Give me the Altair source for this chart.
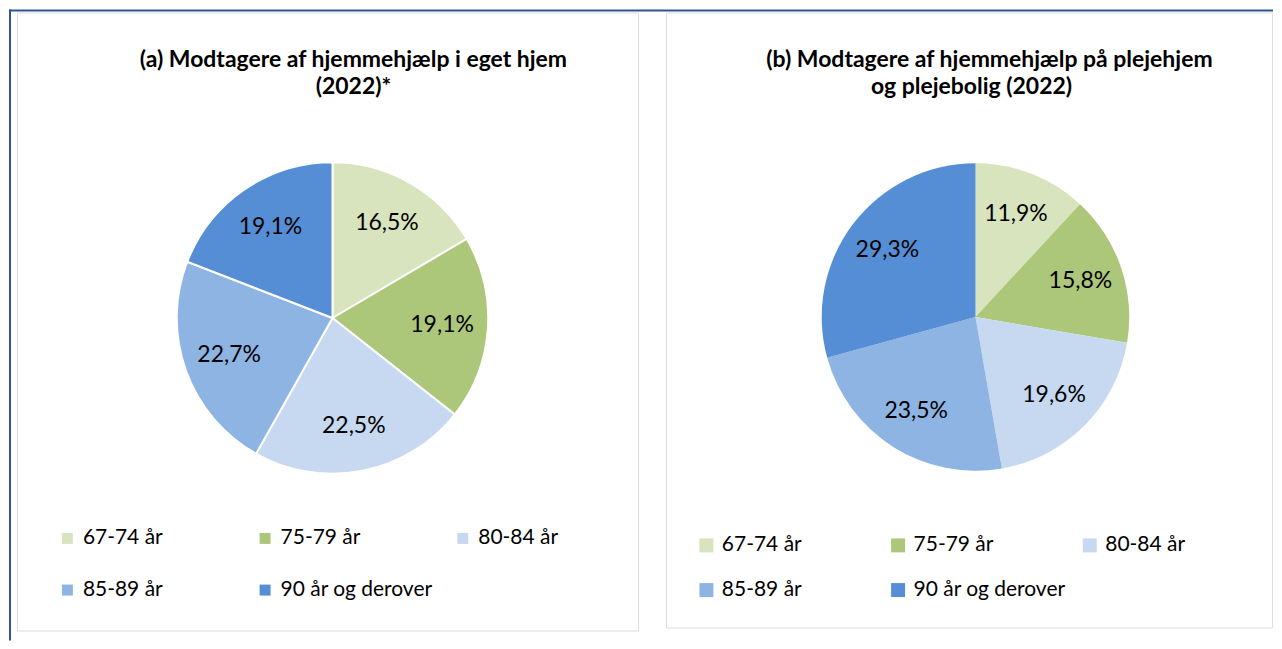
import altair as alt
import pandas as pd

categories = ["67-74 år", "75-79 år", "80-84 år", "85-89 år", "90 år og derover"]
colors = ["#d7e4bd", "#adc77a", "#c6d9f1", "#8eb4e3", "#558ed5"]
values_a = [16.5, 19.1, 22.5, 22.7, 19.1]
values_b = [11.9, 15.8, 19.6, 23.5, 29.3]
title_a = ["(a) Modtagere af hjemmehjælp i eget hjem", "(2022)*"]
title_b = ["(b) Modtagere af hjemmehjælp på plejehjem", "og plejebolig (2022)"]

BAND = "#2f5496"
FONT = "Lato"


def frame(values):
    return pd.DataFrame({
        "kategori": categories,
        "andel": values,
        "orden": list(range(len(categories))),
        "etiket": [f"{v:.1f}".replace(".", ",") + "%" for v in values],
    })


def text_line(line, x, y):
    return alt.Chart(pd.DataFrame({"linje": [line]})).mark_text(
        font=FONT, fontWeight="bold", fontSize=23, color="black",
        align="center", baseline="alphabetic",
    ).encode(x=alt.value(x), y=alt.value(y), text="linje:N")


def panel(values, titles, W, H, cx, cy, r, label_r, stroke_w,
          lx, ly, sym, row_pad, col_pad, extras):
    df = frame(values)
    base = alt.Chart(df).encode(
        theta=alt.Theta("andel:Q", stack=True),
        order=alt.Order("orden:Q"),
    )
    legend = alt.Legend(
        orient="none", legendX=lx, legendY=ly, direction="horizontal",
        columns=3, gridAlign="all", columnPadding=col_pad, rowPadding=row_pad,
        symbolType="square", symbolSize=sym * sym, symbolStrokeWidth=0,
        labelFont=FONT, labelFontSize=21, labelColor="black", labelOffset=5,
        labelLimit=400, title=None, padding=0,
    )
    pie = base.mark_arc(outerRadius=r, stroke="white", strokeWidth=stroke_w).encode(
        color=alt.Color("kategori:N", sort=categories,
                        scale=alt.Scale(domain=categories, range=colors),
                        legend=legend),
        x=alt.value(cx), y=alt.value(cy),
    )
    labels = base.mark_text(radius=label_r, font=FONT, fontSize=23, color="black").encode(
        text="etiket:N", x=alt.value(cx), y=alt.value(cy),
    )
    layers = extras + [pie, labels] + [text_line(t, x, y) for (t, x, y) in titles]
    return alt.layer(*layers).properties(width=W, height=H)


one = pd.DataFrame({"a": [0]})
band = alt.Chart(one).mark_rect(color=BAND).encode(
    x=alt.value(-8), x2=alt.value(1258), y=alt.value(-3), y2=alt.value(-1))
side = alt.Chart(one).mark_rect(color=BAND).encode(
    x=alt.value(-8), x2=alt.value(-6), y=alt.value(-3), y2=alt.value(629))

pa = panel(values_a,
           [(title_a[0], 337, 55), (title_a[1], 337, 82)],
           622, 619, 316, 306, 156, 110, 2,
           40, 516, 11, 30, 19, [band, side])
pb = panel(values_b,
           [(title_b[0], 324, 55), (title_b[1], 306, 82)],
           607, 616, 310, 305, 154, 111, 0,
           30, 523, 14, 23, 13, [])

chart = alt.hconcat(pa, pb, spacing=28, bounds="flush").resolve_scale(
    color="independent").resolve_legend(color="independent").properties(
    padding=0, background="white").configure_view(
    stroke="#a6a6a6", strokeWidth=2).configure(font=FONT)

chart.save("out.html", embed_options={"renderer": "svg", "actions": False})
